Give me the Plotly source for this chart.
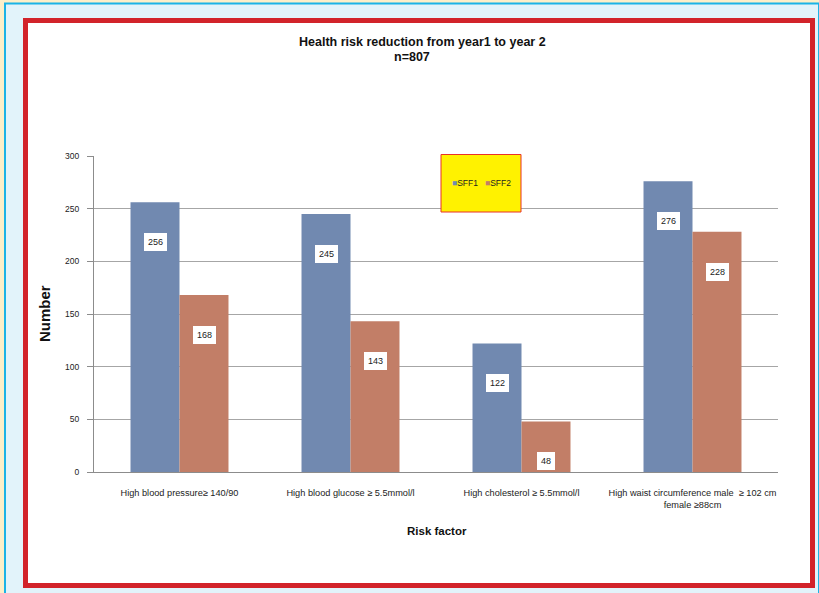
import plotly.graph_objects as go

categories = ["High blood pressure≥ 140/90", "High blood glucose ≥ 5.5mmol/l",
              "High cholesterol ≥ 5.5mmol/l",
              "High waist circumference male  ≥ 102 cm<br>female ≥88cm"]
sff1 = [256, 245, 122, 276]
sff2 = [168, 143, 48, 228]
yticks = [0, 50, 100, 150, 200, 250, 300]
series_names = ["SFF1", "SFF2"]

W, H = 819, 593
L, R, T, B = 94, 41, 156, 121
PW, PH = W - L - R, H - T - B

def px(x):
    return (x - L) / PW

def py(y):
    return (H - B - y) / PH

BLUE = "#7189B0"
RED = "#C27E67"
FONT = "Liberation Sans"

fig = go.Figure()
fig.add_trace(go.Bar(name=series_names[0], x=categories, y=sff1, marker_color=BLUE, marker_line_width=0))
fig.add_trace(go.Bar(name=series_names[1], x=categories, y=sff2, marker_color=RED, marker_line_width=0))

shapes = [
    dict(type="rect", xref="paper", yref="paper", x0=px(5), x1=px(819), y0=py(3.5), y1=py(600),
         fillcolor="#E2F3FA", line=dict(color="#1BB3E6", width=2), layer="below"),
    dict(type="rect", xref="paper", yref="paper", x0=px(25.5), x1=px(812.5), y0=py(20.5), y1=py(585.5),
         fillcolor="white", line=dict(color="#D2232A", width=5), layer="below"),
    dict(type="rect", xref="paper", yref="paper", x0=px(441), x1=px(521), y0=py(154.5), y1=py(212),
         fillcolor="#FFF200", line=dict(color="#E8332A", width=1), layer="above"),
]

annotations = []
for i, c in enumerate(categories):
    for v, sh in ((sff1[i], -24.5), (sff2[i], 24.5)):
        annotations.append(dict(x=c, y=v, xref="x", yref="y", text=str(v), showarrow=False,
                                xshift=sh, yshift=-40, bgcolor="white", borderpad=4,
                                borderwidth=0,
                                font=dict(family=FONT, size=9, color="#222222")))

legend_text = ('<span style="color:%s">■</span>%s   <span style="color:%s">■</span>%s'
               % (BLUE, series_names[0], RED, series_names[1]))
annotations.append(dict(text=legend_text, xref="paper", yref="paper", x=px(481), y=py(183),
                        showarrow=False, xanchor="center", yanchor="middle",
                        font=dict(family=FONT, size=8.5, color="#222222")))

annotations.append(dict(text="<b>Health risk reduction from year1 to year 2</b>", xref="paper", yref="paper",
                        x=px(422), y=py(42), showarrow=False, xanchor="center", yanchor="middle",
                        font=dict(family=FONT, size=12.5, color="#111111")))
annotations.append(dict(text="<b>n=807</b>", xref="paper", yref="paper",
                        x=px(412), y=py(57), showarrow=False, xanchor="center", yanchor="middle",
                        font=dict(family=FONT, size=12.5, color="#111111")))
annotations.append(dict(text="<b>Number</b>", xref="paper", yref="paper", textangle=-90,
                        x=px(44), y=py(314), showarrow=False, xanchor="center", yanchor="middle",
                        font=dict(family=FONT, size=15, color="#111111")))
annotations.append(dict(text="<b>Risk factor</b>", xref="paper", yref="paper",
                        x=px(437), y=py(531), showarrow=False, xanchor="center", yanchor="middle",
                        font=dict(family=FONT, size=11.5, color="#111111")))

fig.update_layout(
    width=W, height=H,
    margin=dict(l=L, r=R, t=T, b=B, pad=0),
    paper_bgcolor="#FCEFC9",
    plot_bgcolor="white",
    barmode="group", bargap=0.427, bargroupgap=0,
    shapes=shapes, annotations=annotations,
    showlegend=False,
    font=dict(family=FONT, color="#333333"),
)
fig.update_xaxes(showline=True, linecolor="#8C8C8C", linewidth=1, ticks="",
                 tickfont=dict(family=FONT, size=9.2, color="#222222"),
                 showgrid=False, fixedrange=True, ticklabelstandoff=12)
fig.update_yaxes(range=[0, 300], tickvals=yticks, showline=True, linecolor="#8C8C8C", linewidth=1,
                 ticks="outside", ticklen=6, tickcolor="#8C8C8C",
                 showgrid=True, gridcolor="#A6A6A6", gridwidth=1, zeroline=False,
                 tickfont=dict(family=FONT, size=8.5, color="#222222"), ticklabelstandoff=6)

fig.write_html("out.html")
